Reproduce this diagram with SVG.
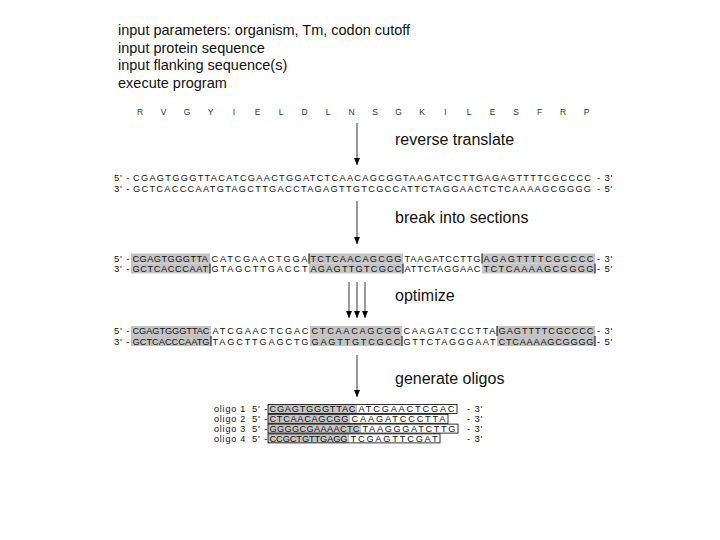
<svg xmlns="http://www.w3.org/2000/svg" width="720" height="540" viewBox="0 0 720 540">
<style>
text{font-family:"Liberation Sans",Arial,sans-serif;fill:#111}
.h{font-size:14.5px}
.lbl{font-size:16px}
.aa{font-size:8.5px;text-anchor:middle;fill:#333}
.s{font-size:9.2px}
.p{font-size:9.5px;letter-spacing:0.8px}
.o{font-size:9px;letter-spacing:0.8px}
.sh{fill:#c4c4c4}
.bar{stroke:#000;stroke-width:1}
.box{fill:none;stroke:#000;stroke-width:0.8}
.arr{stroke:#555;stroke-width:1.2;marker-end:url(#ah)}
</style>
<defs>
<marker id="ah" markerUnits="userSpaceOnUse" markerWidth="6" markerHeight="7" refX="3" refY="7" orient="0" viewBox="0 0 6 7">
<path d="M0,0 L6,0 L3,7 z" fill="#000"/>
</marker>
</defs>
<rect width="720" height="540" fill="#fff"/>

<g id="header">
<text class="h" x="118" y="35">input parameters: organism, Tm, codon cutoff</text>
<text class="h" x="118" y="52.5">input protein sequence</text>
<text class="h" x="118" y="70">input flanking sequence(s)</text>
<text class="h" x="118" y="87.5">execute program</text>
</g>

<g id="protein">
<text class="aa" x="140 163.5 187 210.5 234 257.5 281 304.5 328 351.5 375 398.5 422 445.5 469 492.5 516 539.5 563 586.5" y="114.5">RVGYIELDLNSGKILESFRP</text>
</g>

<g id="step-labels">
<text class="lbl" x="395" y="145">reverse translate</text>
<text class="lbl" x="395" y="223">break into sections</text>
<text class="lbl" x="395" y="301">optimize</text>
<text class="lbl" x="395" y="384">generate oligos</text>
</g>

<g id="connectors">
<line class="arr" x1="357" y1="123" x2="357" y2="165"/>
<line class="arr" x1="357" y1="201" x2="357" y2="244"/>
<line class="arr" x1="349" y1="282" x2="349" y2="318"/>
<line class="arr" x1="357" y1="282" x2="357" y2="318"/>
<line class="arr" x1="365" y1="282" x2="365" y2="318"/>
<line class="arr" x1="357" y1="355" x2="357" y2="397"/>
</g>

<g id="seq-reverse-translated">
<text class="p" x="114" y="181.3">5' -</text>
<text class="s" x="133" y="181.3" textLength="458" lengthAdjust="spacing">CGAGTGGGTTACATCGAACTGGATCTCAACAGCGGTAAGATCCTTGAGAGTTTTCGCCCC</text>
<text class="p" x="597" y="181.3">- 3'</text>
<text class="p" x="114" y="191.8">3' -</text>
<text class="s" x="133" y="191.8" textLength="458" lengthAdjust="spacing">GCTCACCCAATGTAGCTTGACCTAGAGTTGTCGCCATTCTAGGAACTCTCAAAAGCGGGG</text>
<text class="p" x="597" y="191.8">- 5'</text>
</g>

<g id="seq-sections">
<rect class="sh" x="131" y="253.5" width="79" height="10"/>
<rect class="sh" x="309" y="253.5" width="94" height="10"/>
<rect class="sh" x="482" y="253.5" width="113" height="10"/>
<rect class="sh" x="131" y="263.5" width="79" height="10"/>
<rect class="sh" x="309" y="263.5" width="94" height="10"/>
<rect class="sh" x="482" y="263.5" width="113" height="10"/>
<line class="bar" x1="309" y1="253.5" x2="309" y2="263.5"/>
<line class="bar" x1="482" y1="253.5" x2="482" y2="263.5"/>
<line class="bar" x1="210" y1="263.5" x2="210" y2="273.5"/>
<line class="bar" x1="403" y1="263.5" x2="403" y2="273.5"/>
<line class="bar" x1="595" y1="263.5" x2="595" y2="273.5"/>
<text class="p" x="114" y="261.9">5' -</text>
<text class="s" x="132.5" y="261.9" textLength="75.5" lengthAdjust="spacing">CGAGTGGGTTA</text>
<text class="s" x="211.5" y="261.9" textLength="96" lengthAdjust="spacing">CATCGAACTGGA</text>
<text class="s" x="310.5" y="261.9" textLength="91" lengthAdjust="spacing">TCTCAACAGCGG</text>
<text class="s" x="404.5" y="261.9" textLength="76" lengthAdjust="spacing">TAAGATCCTTG</text>
<text class="s" x="483.5" y="261.9" textLength="110" lengthAdjust="spacing">AGAGTTTTCGCCCC</text>
<text class="p" x="597" y="261.9">- 3'</text>
<text class="p" x="114" y="272.1">3' -</text>
<text class="s" x="132.5" y="272.1" textLength="75.5" lengthAdjust="spacing">GCTCACCCAAT</text>
<text class="s" x="211.5" y="272.1" textLength="96" lengthAdjust="spacing">GTAGCTTGACCT</text>
<text class="s" x="310.5" y="272.1" textLength="91" lengthAdjust="spacing">AGAGTTGTCGCC</text>
<text class="s" x="404.5" y="272.1" textLength="76" lengthAdjust="spacing">ATTCTAGGAAC</text>
<text class="s" x="483.5" y="272.1" textLength="110" lengthAdjust="spacing">TCTCAAAAGCGGGG</text>
<text class="p" x="597" y="272.1">- 5'</text>
</g>

<g id="seq-optimized">
<rect class="sh" x="131" y="326" width="80" height="10"/>
<rect class="sh" x="310" y="326" width="92" height="10"/>
<rect class="sh" x="497" y="326" width="98" height="10"/>
<rect class="sh" x="131" y="336" width="80" height="10"/>
<rect class="sh" x="310" y="336" width="92" height="10"/>
<rect class="sh" x="497" y="336" width="98" height="10"/>
<line class="bar" x1="497" y1="326" x2="497" y2="336"/>
<line class="bar" x1="211" y1="336" x2="211" y2="346"/>
<line class="bar" x1="402" y1="336" x2="402" y2="346"/>
<line class="bar" x1="595" y1="336" x2="595" y2="346"/>
<text class="p" x="114" y="334.4">5' -</text>
<text class="s" x="132.5" y="334.4" textLength="77" lengthAdjust="spacing">CGAGTGGGTTAC</text>
<text class="s" x="212.5" y="334.4" textLength="96" lengthAdjust="spacing">ATCGAACTCGAC</text>
<text class="s" x="311.5" y="334.4" textLength="89" lengthAdjust="spacing">CTCAACAGCGG</text>
<text class="s" x="403.5" y="334.4" textLength="92" lengthAdjust="spacing">CAAGATCCCTTA</text>
<text class="s" x="498.5" y="334.4" textLength="95" lengthAdjust="spacing">GAGTTTTCGCCCC</text>
<text class="p" x="597" y="334.4">- 3'</text>
<text class="p" x="114" y="344.6">3' -</text>
<text class="s" x="132.5" y="344.6" textLength="77" lengthAdjust="spacing">GCTCACCCAATG</text>
<text class="s" x="212.5" y="344.6" textLength="96" lengthAdjust="spacing">TAGCTTGAGCTG</text>
<text class="s" x="311.5" y="344.6" textLength="89" lengthAdjust="spacing">GAGTTGTCGCC</text>
<text class="s" x="403.5" y="344.6" textLength="92" lengthAdjust="spacing">GTTCTAGGGAAT</text>
<text class="s" x="498.5" y="344.6" textLength="95" lengthAdjust="spacing">CTCAAAAGCGGGG</text>
<text class="p" x="597" y="344.6">- 5'</text>
</g>

<g id="oligo1">
<rect class="sh" x="268" y="404.5" width="89" height="9"/>
<rect class="box" x="268" y="404.5" width="189" height="9"/>
<text class="o" x="214" y="412.3">oligo 1</text>
<text class="p" x="252" y="412.3">5' -</text>
<text class="s" x="269.5" y="412.3" textLength="86" lengthAdjust="spacing">CGAGTGGGTTAC</text>
<text class="s" x="358.5" y="412.3" textLength="96" lengthAdjust="spacing">ATCGAACTCGAC</text>
<text class="p" x="467" y="412.3">- 3'</text>
</g>
<g id="oligo2">
<rect class="sh" x="268" y="414.3" width="82" height="9"/>
<rect class="box" x="268" y="414.3" width="180" height="9"/>
<text class="o" x="214" y="422.1">oligo 2</text>
<text class="p" x="252" y="422.1">5' -</text>
<text class="s" x="269.5" y="422.1" textLength="79" lengthAdjust="spacing">CTCAACAGCGG</text>
<text class="s" x="351.5" y="422.1" textLength="94" lengthAdjust="spacing">CAAGATCCCTTA</text>
<text class="p" x="467" y="422.1">- 3'</text>
</g>
<g id="oligo3">
<rect class="sh" x="268" y="424.1" width="93" height="9"/>
<rect class="box" x="268" y="424.1" width="190" height="9"/>
<text class="o" x="214" y="431.9">oligo 3</text>
<text class="p" x="252" y="431.9">5' -</text>
<text class="s" x="269.5" y="431.9" textLength="90" lengthAdjust="spacing">GGGGCGAAAACTC</text>
<text class="s" x="362.5" y="431.9" textLength="93" lengthAdjust="spacing">TAAGGGATCTTG</text>
<text class="p" x="467" y="431.9">- 3'</text>
</g>
<g id="oligo4">
<rect class="sh" x="268" y="433.9" width="81" height="9"/>
<rect class="box" x="268" y="433.9" width="172" height="9"/>
<text class="o" x="214" y="441.7">oligo 4</text>
<text class="p" x="252" y="441.7">5' -</text>
<text class="s" x="269.5" y="441.7" textLength="78" lengthAdjust="spacing">CCGCTGTTGAGG</text>
<text class="s" x="350.5" y="441.7" textLength="87" lengthAdjust="spacing">TCGAGTTCGAT</text>
<text class="p" x="467" y="441.7">- 3'</text>
</g>
</svg>
